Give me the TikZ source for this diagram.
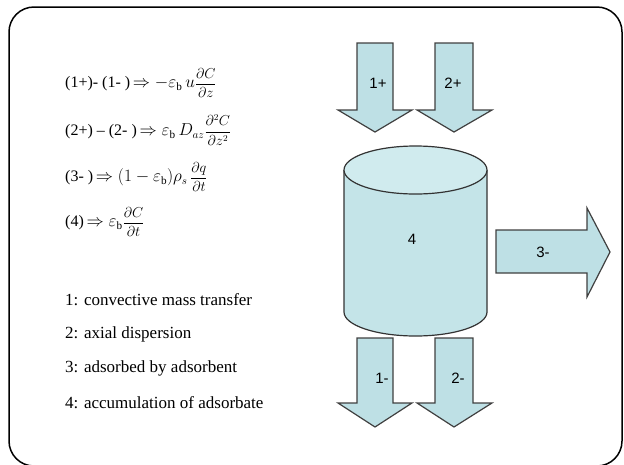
\documentclass[tikz,border=0pt]{standalone}
\usepackage{amsmath}
\usepackage{fontspec}
\setmainfont{Liberation Serif}
\setsansfont{Liberation Sans}
\newcommand{\smfrac}[2]{{\fontsize{13.5}{15}\selectfont$\dfrac{#1}{#2}$}}
\begin{document}
\begin{tikzpicture}[x=1pt,y=-1pt,
  flow/.style={draw=black!75,line width=1.2pt,fill=flowfill,line join=miter},
  eqtext/.style={anchor=west,inner sep=0pt,font=\fontsize{16}{18}\selectfont},
  legtext/.style={anchor=west,inner sep=0pt,font=\fontsize{17}{19}\selectfont},
  lab/.style={inner sep=0pt,font=\sffamily\fontsize{15}{17}\selectfont}]
\definecolor{flowfill}{RGB}{190,224,229}
\definecolor{cylfill}{RGB}{196,228,232}
\definecolor{topfill}{RGB}{208,235,238}
\useasboundingbox (0,0) rectangle (624,464);
% outer frame
\draw[line width=1.5pt,rounded corners=25pt] (9,7) rectangle (622,466);
% down arrows in
\draw[flow] (357,43) -- (393,43) -- (393,110) -- (412,110) -- (375,132) -- (338,110) -- (357,110) -- cycle;
\draw[flow] (435,43) -- (473,43) -- (473,110) -- (492,110) -- (454,132) -- (417,110) -- (435,110) -- cycle;
% down arrows out
\draw[flow] (357,338) -- (393,338) -- (393,403) -- (412,403) -- (375,427) -- (338,403) -- (357,403) -- cycle;
\draw[flow] (435,338) -- (473,338) -- (473,403) -- (492,403) -- (454,427) -- (417,403) -- (435,403) -- cycle;
% right arrow
\draw[flow] (496,230) -- (587,230) -- (587,208) -- (610,252) -- (587,297) -- (587,273) -- (496,273) -- cycle;
% cylinder
\draw[line width=1.2pt,draw=black!80,fill=cylfill] (344,170) -- (344,312) arc[start angle=180,end angle=0,x radius=71.5,y radius=24] -- (487,170);
\draw[line width=1.2pt,draw=black!80,fill=topfill] (415.5,170) ellipse[x radius=71.5,y radius=24];
% labels
\node[lab] (l1p) at (378,83) {1+};
\node[lab] (l2p) at (453,83) {2+};
\node[lab] (l4) at (412,239) {4};
\node[lab] (l3m) at (543,252) {3-};
\node[lab] (l1m) at (382,378) {1-};
\node[lab] (l2m) at (458,378) {2-};
% equations
\node[eqtext] (e1) at (65,83) {(1+)- (1- )\,$\Rightarrow -\varepsilon_{\mathrm{b}}\,u$\smfrac{\partial C}{\partial z}};
\node[eqtext] (e2) at (65,130) {(2+) -- (2- )\,$\Rightarrow \varepsilon_{\mathrm{b}}\,D_{az}$\smfrac{\partial^2 C}{\partial z^2}};
\node[eqtext] (e3) at (65,177) {(3- )\,$\Rightarrow (1-\varepsilon_{\mathrm{b}})\rho_s$\,\smfrac{\partial q}{\partial t}};
\node[eqtext] (e4) at (65,222) {(4)\,$\Rightarrow \varepsilon_{\mathrm{b}}$\smfrac{\partial C}{\partial t}};
% legend
\node[legtext] (g1) at (65,300) {1: convective mass transfer};
\node[legtext] (g2) at (65,334) {2: axial dispersion};
\node[legtext] (g3) at (65,368) {3: adsorbed by adsorbent};
\node[legtext] (g4) at (65,403) {4: accumulation of adsorbate};
\end{tikzpicture}
\end{document}
